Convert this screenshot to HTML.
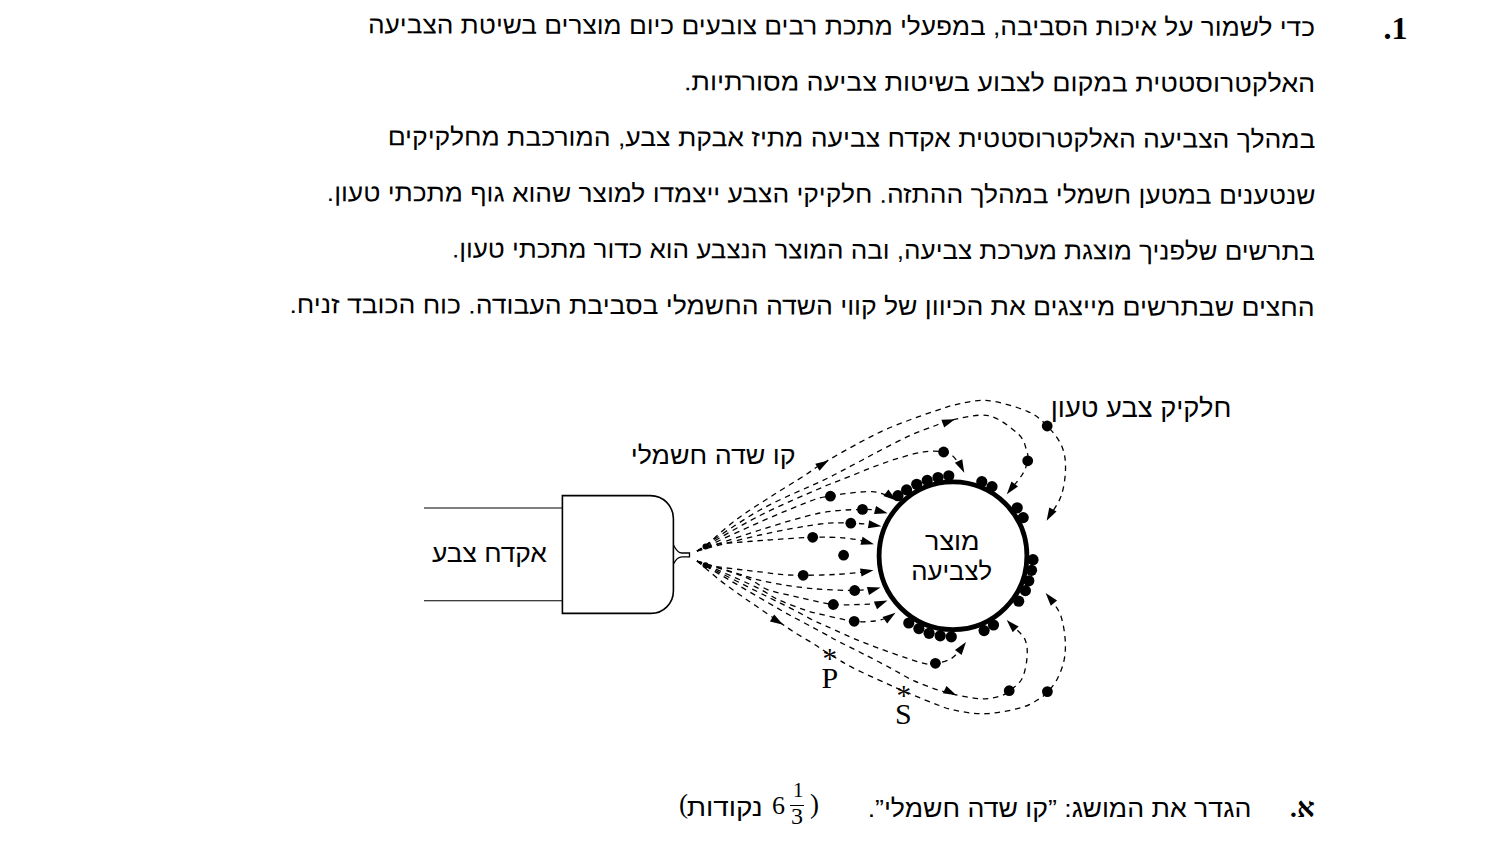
<!DOCTYPE html>
<html lang="he"><head><meta charset="utf-8">
<style>
html,body{margin:0;padding:0;background:#fff;}
body{width:1500px;height:847px;position:relative;overflow:hidden;font-family:"Liberation Sans",sans-serif;color:#000;}
.l{position:absolute;right:185px;direction:rtl;white-space:nowrap;font-size:24.5px;line-height:30px;transform-origin:100% 50%;}
.num{position:absolute;left:1383.5px;top:12px;font:bold 32px/32px "Liberation Serif",serif;}
svg{position:absolute;left:0;top:0;}
.lb{position:absolute;z-index:2;direction:rtl;white-space:nowrap;font-family:"Liberation Sans",sans-serif;line-height:1;transform-origin:100% 50%;}
.sf{position:absolute;z-index:2;white-space:nowrap;font-family:"Liberation Serif",serif;line-height:1;}

</style></head><body>
<div class="num" id="num">.1</div>
<div class="l" id="l1" style="top:13px;transform:scaleX(1.0713) rotate(0.18deg)">כדי לשמור על איכות הסביבה, במפעלי מתכת רבים צובעים כיום מוצרים בשיטת הצביעה</div>
<div class="l" id="l2" style="top:68.9px;transform:scaleX(1.0975) rotate(0.18deg)">האלקטרוסטטית במקום לצבוע בשיטות צביעה מסורתיות.</div>
<div class="l" id="l3" style="top:124.8px;transform:scaleX(1.0833) rotate(0.18deg)">במהלך הצביעה האלקטרוסטטית אקדח צביעה מתיז אבקת צבע, המורכבת מחלקיקים</div>
<div class="l" id="l4" style="top:180.7px;transform:scaleX(1.0752) rotate(0.18deg)">שנטענים במטען חשמלי במהלך ההתזה. חלקיקי הצבע ייצמדו למוצר שהוא גוף מתכתי טעון.</div>
<div class="l" id="l5" style="top:236.6px;transform:scaleX(1.0615) rotate(0.18deg)">בתרשים שלפניך מוצגת מערכת צביעה, ובה המוצר הנצבע הוא כדור מתכתי טעון.</div>
<div class="l" id="l6" style="top:292.5px;transform:scaleX(1.0841) rotate(0.18deg)">החצים שבתרשים מייצגים את הכיוון של קווי השדה החשמלי בסביבת העבודה. כוח הכובד זניח.</div>

<div class="lb" id="b1" style="right:704px;top:443.5px;font-size:24.5px;transform:scaleX(1.095)">קו שדה חשמלי</div>
<div class="lb" id="b2" style="right:269px;top:395px;font-size:26px;transform:scaleX(1.048)">חלקיק צבע טעון</div>
<div class="lb" id="b3" style="right:953px;top:542px;font-size:24.5px;transform:scaleX(1.075)">אקדח צבע</div>
<div class="lb" id="b4" style="right:520px;top:529.5px;font-size:24.5px;transform:scaleX(1.10)">מוצר</div>
<div class="lb" id="b5" style="right:508px;top:559.5px;font-size:24.5px;transform:scaleX(1.05)">לצביעה</div>
<div class="sf" id="p" style="left:821.5px;top:663px;font-size:30px">P</div>
<div class="sf" id="s" style="left:895px;top:699px;font-size:30px">S</div>
<div class="sf" id="ps" style="left:822.5px;top:644px;font-size:29px">*</div>
<div class="sf" id="ss" style="left:896.5px;top:680.5px;font-size:29px">*</div>
<div class="sf" id="qa" style="left:1290px;top:794px;font-size:27.5px;font-weight:bold">.א</div>
<div class="lb" id="qt" style="right:249px;top:796.5px;font-size:24.5px;transform:scaleX(1.089)">הגדר את המושג: ”קו שדה חשמלי”.</div>
<div class="sf" id="p1" style="left:679px;top:791px;font-size:27px">(</div>
<div class="lb" id="pt" style="right:737px;top:796px;font-size:24.5px;transform:scaleX(1.14)">נקודות</div>
<div class="sf" id="p6" style="left:772px;top:793px;font-size:26px">6</div>
<div class="sf" id="pn" style="left:793px;top:780px;font-size:21px">1</div>
<div style="position:absolute;left:790px;top:804.5px;width:14px;height:1px;background:#000"></div>
<div class="sf" id="pd" style="left:791px;top:804px;font-size:24px">3</div>
<div class="sf" id="p2" style="left:810px;top:791px;font-size:27px">)</div>
<svg width="1500" height="847" viewBox="0 0 1500 847">
<g fill="none" stroke="#000" stroke-width="1.3" stroke-dasharray="5.5 4.8">
<path d="M697.0,551.0 C698.5,550.1 699.1,550.8 705.7,545.5 C712.3,540.2 725.9,527.4 736.8,519.3 C747.6,511.1 759.5,503.9 770.8,496.6 C782.1,489.3 796.5,480.7 804.8,475.4 C813.1,470.1 811.4,470.2 820.4,464.8 C829.4,459.4 848.2,448.7 859.0,442.9 C869.8,437.1 876.2,433.8 884.9,429.9 C893.5,426.0 902.2,422.8 910.9,419.5 C919.6,416.2 928.9,413.0 936.9,410.4 C944.9,407.8 950.4,405.5 959.0,403.9 C967.6,402.3 977.0,399.4 988.4,400.6 C999.8,401.8 1017.6,407.1 1027.4,411.3 C1037.2,415.5 1041.4,420.1 1047.2,426.0 C1053.0,431.9 1059.0,439.4 1062.0,446.7 C1065.0,454.0 1065.7,461.4 1065.5,469.7 C1065.3,478.0 1063.8,488.4 1061.0,496.3 C1058.2,504.2 1051.0,513.5 1049.0,517.0"/>
<path d="M697.0,551.0 C707.5,544.2 739.5,521.5 760.0,510.0 C780.5,498.5 806.5,488.2 820.0,481.8 C833.5,475.4 833.6,475.1 840.8,471.4 C847.9,467.7 855.5,463.6 862.9,459.7 C870.2,455.8 876.9,452.1 884.9,448.0 C892.9,443.9 902.7,438.8 910.9,435.1 C919.1,431.4 927.8,428.4 934.3,426.0 C940.8,423.6 941.0,422.2 950.0,420.5 C959.0,418.8 977.0,413.4 988.4,415.7 C999.8,418.0 1012.1,428.6 1018.5,434.3 C1024.8,440.1 1025.0,445.8 1026.5,450.2 C1028.0,454.6 1028.5,456.7 1027.7,460.8 C1027.0,464.9 1025.0,470.1 1022.0,475.0 C1019.0,479.9 1012.0,487.5 1010.0,490.0"/>
<path d="M697.0,551.0 C707.5,545.1 739.5,526.0 760.0,515.5 C780.5,505.1 805.7,494.6 820.0,488.3 C834.3,482.0 837.3,481.4 846.0,477.9 C854.7,474.4 863.4,470.8 872.0,467.5 C880.6,464.2 889.2,461.0 897.9,458.4 C906.5,455.8 916.3,453.0 923.9,451.9 C931.5,450.8 938.6,451.2 943.4,451.9 C948.2,452.5 949.7,453.6 952.5,455.8 C955.3,458.0 958.8,463.5 960.0,465.0"/>
<path d="M697.0,551.0 C707.5,546.2 740.6,530.5 760.0,522.0 C779.4,513.5 801.6,504.3 813.3,500.0 C825.0,495.7 824.9,497.3 830.4,496.2 C835.9,495.1 839.1,494.3 846.0,493.5 C852.9,492.7 865.0,491.3 872.0,491.6 C879.0,491.9 885.3,494.9 888.0,495.5"/>
<path d="M697.0,551.0 C707.5,547.5 739.5,536.3 760.0,530.0 C780.5,523.7 802.9,516.4 820.0,513.0 C837.1,509.6 852.8,509.8 862.5,509.4 C872.2,509.0 875.4,510.3 878.0,510.5"/>
<path d="M697.0,551.0 C707.5,548.3 739.5,539.5 760.0,535.0 C780.5,530.5 804.9,526.0 820.0,524.0 C835.1,522.0 842.1,523.1 850.8,523.2 C859.5,523.3 868.5,524.3 872.0,524.5"/>
<path d="M697.0,551.0 C699.9,550.0 706.6,546.3 714.2,544.8 C721.8,543.3 733.1,542.8 742.5,542.0 C751.9,541.2 759.1,540.6 770.8,539.8 C782.5,539.0 800.3,537.6 812.7,537.3 C825.1,537.0 836.1,537.3 845.0,538.0 C853.9,538.7 862.5,540.9 866.0,541.5"/>
<path d="M697.0,561.0 C698.4,561.7 698.2,563.6 705.2,565.0 C712.2,566.4 729.5,568.3 739.0,569.5 C748.5,570.7 754.9,571.2 762.3,572.1 C769.6,573.0 776.3,574.2 783.1,574.7 C789.9,575.2 794.6,575.3 803.2,575.3 C811.9,575.3 824.9,575.0 835.0,574.5 C845.1,574.0 859.2,572.4 864.0,572.0"/>
<path d="M697.0,561.0 C704.0,563.2 728.8,570.9 739.0,574.0 C749.2,577.1 751.5,578.2 758.4,579.9 C765.3,581.6 772.9,583.1 780.5,584.4 C788.1,585.7 796.3,586.8 803.9,587.7 C811.5,588.6 817.5,589.1 826.0,589.6 C834.5,590.1 847.2,590.6 854.7,590.5 C862.2,590.4 868.3,589.2 871.0,589.0"/>
<path d="M697.0,561.0 C705.1,563.7 733.8,572.5 745.5,577.3 C757.2,582.1 759.9,586.6 767.5,589.6 C775.1,592.6 783.8,593.8 790.9,595.5 C798.0,597.2 803.3,598.5 810.4,600.0 C817.5,601.5 825.0,603.8 833.3,604.5 C841.6,605.2 852.4,604.7 860.0,604.5 C867.6,604.3 875.8,603.7 879.0,603.5"/>
<path d="M697.0,561.0 C706.6,565.2 741.0,580.0 754.5,586.4 C768.0,592.8 769.7,595.5 777.9,599.4 C786.1,603.3 796.3,607.1 803.9,609.7 C811.5,612.3 815.0,613.0 823.4,614.9 C831.8,616.8 845.6,620.3 854.2,621.3 C862.8,622.3 869.4,621.6 875.0,621.0 C880.6,620.4 885.8,618.1 888.0,617.5"/>
<path d="M697.0,561.0 C708.3,566.8 749.4,587.6 765.0,595.5 C780.6,603.4 782.7,604.2 790.9,608.4 C799.1,612.6 808.2,617.8 814.3,620.8 C820.4,623.8 818.8,622.9 827.3,626.6 C835.8,630.3 849.9,637.2 865.3,643.2 C880.7,649.2 907.8,658.9 919.5,662.3 C931.2,665.6 930.2,663.9 935.4,663.3 C940.6,662.7 946.8,661.0 950.9,658.8 C955.0,656.6 958.5,651.5 960.0,650.0"/>
<path d="M697.0,561.0 C710.5,568.9 760.1,598.1 777.9,608.4 C795.7,618.7 796.3,618.6 803.9,622.7 C811.5,626.8 817.4,629.9 823.4,633.1 C829.4,636.3 833.2,638.7 839.8,642.1 C846.4,645.5 854.8,649.5 863.1,653.8 C871.4,658.0 881.2,663.1 889.7,667.6 C898.2,672.1 905.0,676.8 914.2,680.9 C923.4,685.0 934.2,689.0 945.0,692.0 C955.8,695.0 970.0,698.0 979.2,698.7 C988.5,699.4 995.5,697.3 1000.5,696.0 C1005.5,694.7 1005.7,693.5 1009.2,690.7 C1012.7,687.9 1018.7,684.7 1021.7,679.2 C1024.7,673.8 1026.4,664.5 1027.0,658.0 C1027.6,651.5 1027.3,645.2 1025.3,640.2 C1023.3,635.2 1016.7,630.0 1015.0,628.0"/>
<path d="M697.0,561.0 C700.8,564.1 712.5,574.4 719.5,579.9 C726.5,585.4 733.0,589.9 739.0,594.2 C745.0,598.5 749.5,601.5 755.8,605.8 C762.1,610.1 770.3,615.8 776.6,620.1 C782.9,624.4 787.4,627.9 793.5,631.8 C799.6,635.7 806.9,639.7 813.0,643.5 C819.1,647.3 823.6,650.5 830.2,654.5 C836.8,658.5 843.5,662.9 852.5,667.6 C861.5,672.3 875.7,678.5 884.4,682.5 C893.1,686.5 896.6,688.1 904.7,691.5 C912.8,694.9 924.8,700.0 933.1,703.1 C941.4,706.2 945.5,708.4 954.4,710.2 C963.3,712.0 975.1,714.2 986.3,713.7 C997.5,713.2 1012.9,710.0 1021.7,707.5 C1030.6,705.0 1035.1,701.3 1039.4,698.7 C1043.7,696.1 1044.5,695.2 1047.4,692.0 C1050.4,688.8 1054.3,684.6 1057.1,679.2 C1059.9,673.8 1062.9,666.5 1064.2,659.7 C1065.5,652.9 1065.7,645.9 1065.1,638.5 C1064.5,631.1 1062.9,621.6 1060.7,615.4 C1058.5,609.1 1053.5,603.4 1052.0,601.0"/>
</g>
<circle cx="953" cy="555.8" r="73.9" fill="#fff" stroke="#000" stroke-width="4.8"/>
<g fill="#000">
<path d="M828.5,460.5 L819.5,470.8 L815.3,463.7 Z"/>
<path d="M1046.6,520.8 L1049.3,507.4 L1056.5,511.4 Z"/>
<path d="M955.0,419.2 L944.2,427.5 L941.4,419.8 Z"/>
<path d="M1006.8,494.2 L1011.5,481.4 L1018.0,486.5 Z"/>
<path d="M964.3,472.7 L954.9,462.8 L962.2,459.2 Z"/>
<path d="M896.3,500.6 L883.4,496.1 L888.4,489.5 Z"/>
<path d="M887.6,513.2 L874.0,513.9 L876.1,505.9 Z"/>
<path d="M881.4,526.2 L867.9,528.3 L869.2,520.2 Z"/>
<path d="M874.0,544.2 L860.4,544.7 L862.6,536.8 Z"/>
<path d="M873.5,570.2 L861.5,576.6 L860.0,568.5 Z"/>
<path d="M880.5,587.6 L869.0,594.9 L866.9,586.9 Z"/>
<path d="M887.5,600.6 L877.0,609.2 L873.9,601.6 Z"/>
<path d="M895.5,612.8 L887.2,623.6 L882.5,616.9 Z"/>
<path d="M966.0,642.0 L961.6,654.9 L955.0,650.1 Z"/>
<path d="M956.4,695.3 L942.9,693.3 L946.5,685.9 Z"/>
<path d="M1006.7,619.9 L1018.6,626.5 L1012.7,632.2 Z"/>
<path d="M783.1,624.7 L769.9,621.4 L774.2,614.4 Z"/>
<path d="M1045.6,593.1 L1057.1,600.4 L1050.8,605.7 Z"/>
<circle cx="1047.2" cy="426.0" r="5.4"/>
<circle cx="1027.7" cy="460.8" r="5.4"/>
<circle cx="943.6" cy="452.0" r="5.4"/>
<circle cx="830.4" cy="496.2" r="5.4"/>
<circle cx="862.5" cy="509.4" r="5.4"/>
<circle cx="850.8" cy="523.2" r="5.4"/>
<circle cx="812.7" cy="537.3" r="5.4"/>
<circle cx="843.6" cy="555.2" r="5.4"/>
<circle cx="803.2" cy="575.3" r="5.4"/>
<circle cx="854.7" cy="590.5" r="5.4"/>
<circle cx="833.3" cy="604.5" r="5.4"/>
<circle cx="854.2" cy="621.3" r="5.4"/>
<circle cx="935.4" cy="663.3" r="5.4"/>
<circle cx="1009.2" cy="690.7" r="5.4"/>
<circle cx="1047.4" cy="691.6" r="5.4"/>
<circle cx="898.0" cy="495.7" r="5.6"/>
<circle cx="906.6" cy="489.9" r="5.6"/>
<circle cx="916.7" cy="484.3" r="5.6"/>
<circle cx="927.2" cy="480.4" r="5.6"/>
<circle cx="938.0" cy="477.5" r="5.6"/>
<circle cx="948.8" cy="475.8" r="5.6"/>
<circle cx="981.8" cy="481.7" r="5.6"/>
<circle cx="992.0" cy="486.6" r="5.6"/>
<circle cx="1017.2" cy="507.8" r="5.6"/>
<circle cx="1023.2" cy="517.6" r="5.6"/>
<circle cx="1033.0" cy="559.7" r="5.6"/>
<circle cx="1031.5" cy="570.3" r="5.6"/>
<circle cx="1028.8" cy="580.8" r="5.6"/>
<circle cx="1025.4" cy="590.6" r="5.6"/>
<circle cx="1018.7" cy="601.2" r="5.6"/>
<circle cx="908.8" cy="623.0" r="5.6"/>
<circle cx="918.9" cy="628.6" r="5.6"/>
<circle cx="929.1" cy="633.3" r="5.6"/>
<circle cx="940.2" cy="635.8" r="5.6"/>
<circle cx="951.3" cy="636.8" r="5.6"/>
<circle cx="984.1" cy="630.6" r="5.6"/>
<circle cx="993.5" cy="625.0" r="5.6"/>
<circle cx="705.5" cy="546.5" r="3"/>
<circle cx="705.5" cy="565.2" r="3"/>
</g>
<g fill="none" stroke="#000" stroke-width="1.4">
<path d="M424,508 H562.4 M424,600.8 H562.4" stroke-width="1.1"/>
<path d="M562.4,495.6 H650 A23,23 0 0 1 673.4,518.6 V591 A22.4,22.4 0 0 1 651,613.4 H562.4 Z" stroke-width="1.6"/>
<path d="M673.6,545.2 C676,550 678,553 682,553 H689.5 V556.8 H682 C678,556.8 676,559 673.6,563.6" stroke-width="1.3"/>
</g>
</svg>
</body></html>
